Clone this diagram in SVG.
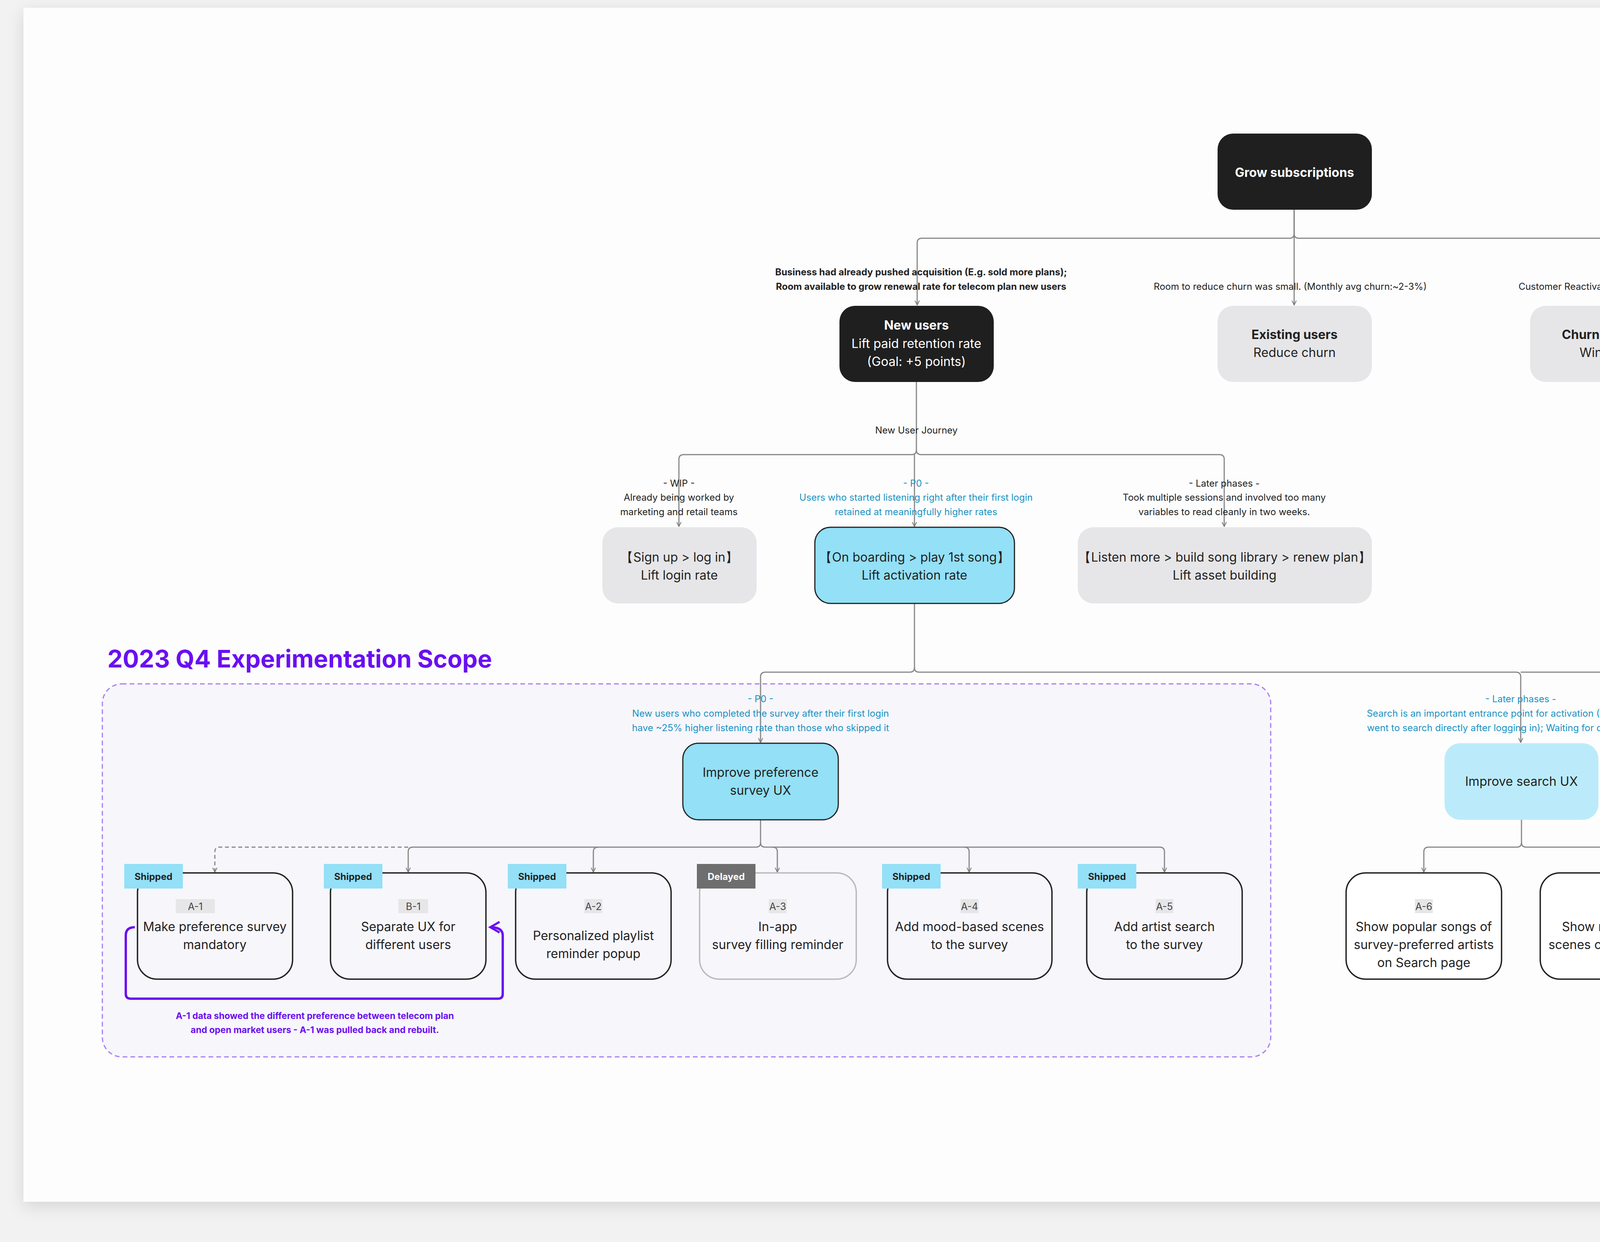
<svg xmlns="http://www.w3.org/2000/svg" width="5200" height="3180" viewBox="0 0 5200 3180">
<defs>
<marker id="ar" viewBox="0 0 10 10" refX="9" refY="5" markerWidth="14" markerHeight="14" markerUnits="userSpaceOnUse" orient="auto"><path d="M1 1 L9 5 L1 9" fill="none" stroke="#777" stroke-width="1.4"/></marker>
<marker id="arp" viewBox="0 0 10 10" refX="8" refY="5" markerWidth="34" markerHeight="34" markerUnits="userSpaceOnUse" orient="auto"><path d="M1 1 L8 5 L1 9" fill="none" stroke="#6a0ff2" stroke-width="1.6"/></marker>
<filter id="sh" x="-5%" y="-5%" width="110%" height="110%"><feDropShadow dx="0" dy="12" stdDeviation="20" flood-color="#000" flood-opacity="0.12"/></filter>
</defs>
<style>
text{font-family:Inter,"Noto Sans","Liberation Sans",sans-serif;text-anchor:middle;dominant-baseline:central}
.nt{font-size:32px;fill:#222}
.nw{font-size:32px;fill:#fff}
.b{font-weight:700}
.lb{font-size:24px;fill:#222}
.tl{font-size:24px;fill:#1b92c2}
.pl{font-size:23px;fill:#6a0ff2;font-weight:700}
.con{fill:none;stroke:#888;stroke-width:3}
.blk{fill:#1f1f1f}
.gry{fill:#e6e6e8}
.cy{fill:#93e0f7;stroke:#222;stroke-width:3}
.lcy{fill:#bbebfa}
.ch{fill:#f7f6fb;stroke:#222;stroke-width:3.5}
.chw{fill:#fff;stroke:#222;stroke-width:3.5}
.bs{fill:#93e0f7}
.bd{fill:#6e6e6e}
.bt{font-size:24px;font-weight:700;fill:#222}
.tag{fill:#e6e6e8}
.tt{font-size:25px;fill:#444}
</style>
<rect width="5200" height="3180" fill="#f2f2f2"/>
<rect x="60" y="20" width="5080" height="3057" fill="#fdfdfd" filter="url(#sh)"/>

<text x="275" y="1686" style="font-size:62px;font-weight:700;fill:#6a0ff2;text-anchor:start">2023 Q4 Experimentation Scope</text>
<rect x="262" y="1751" width="2991" height="955" rx="50" fill="#f7f6fb" stroke="#a77cf5" stroke-width="3" stroke-dasharray="12 8"/>

<g id="connectors">
<path class="con" marker-end="url(#ar)" d="M3313 537 V598 Q3313 610 3301 610 H2360 Q2348 610 2348 622 V781"/>
<path class="con" marker-end="url(#ar)" d="M3313 537 V781"/>
<path class="con" marker-end="url(#ar)" d="M3313 598 Q3313 610 3325 610 H4100 Q4112 610 4112 622 V781"/>
<path class="con" marker-end="url(#ar)" d="M2346 978 V1152 Q2346 1164 2334 1164 H1750 Q1738 1164 1738 1176 V1348"/>
<path class="con" marker-end="url(#ar)" d="M2341 1164 V1348"/>
<path class="con" marker-end="url(#ar)" d="M2346 1152 Q2346 1164 2358 1164 H3122 Q3134 1164 3134 1176 V1348"/>
<path class="con" marker-end="url(#ar)" d="M2341 1545 V1709 Q2341 1721 2329 1721 H1959 Q1947 1721 1947 1733 V1901"/>
<path class="con" marker-end="url(#ar)" d="M2341 1709 Q2341 1721 2353 1721 H3881 Q3893 1721 3893 1733 V1901"/>
<path class="con" marker-end="url(#ar)" d="M3893 1721 H4661 Q4673 1721 4673 1733 V1901"/>
<path class="con" stroke-dasharray="10 7" marker-end="url(#ar)" d="M1045 2169 H562 Q550 2169 550 2181 V2233"/>
<path class="con" marker-end="url(#ar)" d="M1947 2099 V2157 Q1947 2169 1935 2169 H1057 Q1045 2169 1045 2181 V2233"/>
<path class="con" marker-end="url(#ar)" d="M1531 2169 Q1519 2169 1519 2181 V2233"/>
<path class="con" marker-end="url(#ar)" d="M1947 2157 Q1947 2169 1959 2169 H2969 Q2981 2169 2981 2181 V2233"/>
<path class="con" marker-end="url(#ar)" d="M1978 2169 Q1990 2169 1990 2181 V2233"/>
<path class="con" marker-end="url(#ar)" d="M2469 2169 Q2481 2169 2481 2181 V2233"/>
<path class="con" marker-end="url(#ar)" d="M3895 2099 V2157 Q3895 2169 3883 2169 H3657 Q3645 2169 3645 2181 V2233"/>
<path class="con" marker-end="url(#ar)" d="M3895 2157 Q3895 2169 3907 2169 H4130 Q4142 2169 4142 2181 V2233"/>
<path fill="none" stroke="#6a0ff2" stroke-width="6" marker-end="url(#arp)" d="M345 2374 Q322 2374 322 2395 V2545 Q322 2557 335 2557 H1275 Q1287 2557 1287 2545 V2395 Q1287 2374 1255 2374"/>
</g>

<g id="labels">
<text class="lb b" x="2358" y="696">Business had already pushed acquisition (E.g. sold more plans);</text>
<text class="lb b" x="2358" y="733">Room available to grow renewal rate for telecom plan new users</text>
<text class="lb" x="3303" y="733">Room to reduce churn was small.  (Monthly avg churn:~2-3%)</text>
<text class="lb" x="4132" y="733">Customer Reactivation Cost (CRC) too high</text>
<text class="lb" x="2346" y="1101">New User Journey</text>
<text class="lb" x="1738" y="1237">- WIP -</text>
<text class="lb" x="1738" y="1273">Already being worked by</text>
<text class="lb" x="1738" y="1310">marketing and retail teams</text>
<text class="tl" x="2345" y="1237">- P0 -</text>
<text class="tl" x="2345" y="1273">Users who started listening right after their first login</text>
<text class="tl" x="2345" y="1310">retained at meaningfully higher rates</text>
<text class="lb" x="3134" y="1237">- Later phases -</text>
<text class="lb" x="3134" y="1273">Took multiple sessions and involved too many</text>
<text class="lb" x="3134" y="1310">variables to read cleanly in two weeks.</text>
<text class="tl" x="1947" y="1789">- P0 -</text>
<text class="tl" x="1947" y="1826">New users who completed the survey after their first login</text>
<text class="tl" x="1947" y="1863">have ~25% higher listening rate than those who skipped it</text>
<text class="tl" x="3893" y="1789">- Later phases -</text>
<text class="tl" x="3893" y="1826">Search is an important entrance point for activation (~20% new users</text>
<text class="tl" x="3893" y="1863">went to search directly after logging in); Waiting for dev team support</text>
<text class="lb" x="4424" y="1826" style="text-anchor:start">Less impactful than the survey &amp; search module</text>
<text class="lb" x="4424" y="1863" style="text-anchor:start">for lifting activation rate; Recently revamped</text>
<text class="pl" x="806" y="2601">A-1 data showed the different preference between telecom plan</text>
<text class="pl" x="806" y="2637">and open market users -  A-1 was pulled back and rebuilt.</text>
</g>

<g id="grow"><rect class="blk" x="3117" y="342" width="395" height="195" rx="40"/><text class="nw b" x="3314" y="441">Grow subscriptions</text></g>
<g id="new-users"><rect class="blk" x="2149" y="783" width="395" height="195" rx="40"/><text class="nw b" x="2346" y="832">New users</text><text class="nw" x="2346" y="879">Lift paid retention rate</text><text class="nw" x="2346" y="925">(Goal: +5 points)</text></g>
<g id="existing"><rect class="gry" x="3117" y="783" width="395" height="195" rx="40"/><text class="nt b" x="3314" y="856">Existing users</text><text class="nt" x="3314" y="902">Reduce churn</text></g>
<g id="churned"><rect class="gry" x="3917" y="783" width="395" height="195" rx="40"/><text class="nt b" x="4114" y="856">Churned users</text><text class="nt" x="4114" y="902">Win back</text></g>
<g id="signup"><rect class="gry" x="1542" y="1350" width="395" height="195" rx="40"/><text class="nt" x="1739" y="1426">【Sign up &gt; log in】</text><text class="nt" x="1739" y="1472">Lift login rate</text></g>
<g id="onboarding"><rect class="cy" x="2086" y="1350" width="511" height="195" rx="40"/><text class="nt" x="2341" y="1426">【On boarding &gt; play 1st song】</text><text class="nt" x="2341" y="1472">Lift activation rate</text></g>
<g id="listen"><rect class="gry" x="2759" y="1350" width="753" height="195" rx="40"/><text class="nt" x="3135" y="1426">【Listen more &gt; build song library &gt; renew plan】</text><text class="nt" x="3135" y="1472">Lift asset building</text></g>
<g id="survey"><rect class="cy" x="1748" y="1903" width="398" height="196" rx="40"/><text class="nt" x="1947" y="1977">Improve preference</text><text class="nt" x="1947" y="2023">survey UX</text></g>
<g id="search"><rect class="lcy" x="3698" y="1903" width="394" height="196" rx="40"/><text class="nt" x="3895" y="2000">Improve search UX</text></g>
<g id="homepage"><rect class="gry" x="4474" y="1903" width="398" height="196" rx="40"/><text class="nt" x="4673" y="1977">Improve homepage UX</text><text class="nt" x="4673" y="2023">(For You / Discovery)</text></g>

<g id="a1"><rect class="ch" x="352" y="2235" width="397" height="272" rx="50"/><rect class="bs" x="318" y="2212" width="150" height="63"/><text class="bt" x="393" y="2244">Shipped</text><rect class="tag" x="450" y="2302" width="100" height="36"/><text class="tt" x="500" y="2321">A-1</text><text class="nt" x="550" y="2372">Make preference survey</text><text class="nt" x="550" y="2418">mandatory</text></g>
<g id="b1"><rect class="ch" x="846" y="2235" width="398" height="272" rx="50"/><rect class="bs" x="829" y="2212" width="150" height="63"/><text class="bt" x="904" y="2244">Shipped</text><rect class="tag" x="1020" y="2302" width="76" height="36"/><text class="tt" x="1058" y="2321">B-1</text><text class="nt" x="1045" y="2372">Separate UX for</text><text class="nt" x="1045" y="2418">different users</text></g>
<g id="a2"><rect class="ch" x="1320" y="2235" width="398" height="272" rx="50"/><rect class="bs" x="1300" y="2212" width="150" height="63"/><text class="bt" x="1375" y="2244">Shipped</text><rect class="tag" x="1496" y="2302" width="46" height="36"/><text class="tt" x="1519" y="2321">A-2</text><text class="nt" x="1519" y="2395">Personalized playlist</text><text class="nt" x="1519" y="2441">reminder popup</text></g>
<g id="a3"><rect class="ch" style="stroke:#bbb" x="1791" y="2235" width="401" height="272" rx="50"/><rect class="bd" x="1784" y="2212" width="150" height="63"/><text class="bt" style="fill:#fff" x="1859" y="2244">Delayed</text><rect class="tag" x="1968" y="2302" width="46" height="36"/><text class="tt" x="1991" y="2321">A-3</text><text class="nt" x="1991" y="2372">In-app</text><text class="nt" x="1991" y="2418">survey filling reminder</text></g>
<g id="a4"><rect class="ch" x="2272" y="2235" width="421" height="272" rx="50"/><rect class="bs" x="2258" y="2212" width="150" height="63"/><text class="bt" x="2333" y="2244">Shipped</text><rect class="tag" x="2459" y="2302" width="46" height="36"/><text class="tt" x="2482" y="2321">A-4</text><text class="nt" x="2482" y="2372">Add mood-based scenes</text><text class="nt" x="2482" y="2418">to the survey</text></g>
<g id="a5"><rect class="ch" x="2782" y="2235" width="398" height="272" rx="50"/><rect class="bs" x="2759" y="2212" width="150" height="63"/><text class="bt" x="2834" y="2244">Shipped</text><rect class="tag" x="2958" y="2302" width="46" height="36"/><text class="tt" x="2981" y="2321">A-5</text><text class="nt" x="2981" y="2372">Add artist search</text><text class="nt" x="2981" y="2418">to the survey</text></g>
<g id="a6"><rect class="chw" x="3446" y="2235" width="398" height="272" rx="50"/><rect class="tag" x="3622" y="2302" width="46" height="36"/><text class="tt" x="3645" y="2321">A-6</text><text class="nt" x="3645" y="2372">Show popular songs of</text><text class="nt" x="3645" y="2418">survey-preferred artists</text><text class="nt" x="3645" y="2464">on Search page</text></g>
<g id="a7"><rect class="chw" x="3943" y="2235" width="398" height="272" rx="50"/><rect class="tag" x="4119" y="2302" width="46" height="36"/><text class="tt" x="4142" y="2321">A-7</text><text class="nt" x="4142" y="2372">Show mood-based</text><text class="nt" x="4142" y="2418">scenes on Search page</text></g>
</svg>
